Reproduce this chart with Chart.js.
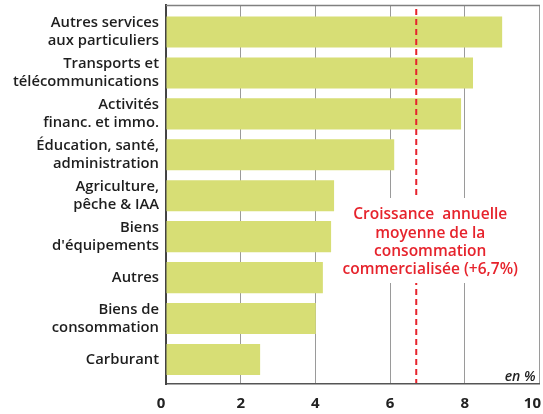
<!DOCTYPE html>
<html>
<head>
<meta charset="utf-8">
<script src="https://cdn.jsdelivr.net/npm/chart.js@4/dist/chart.umd.min.js"></script>
<style>
  html, body { margin: 0; padding: 0; background: #fff; }
  #wrap { width: 543px; height: 414px; }
</style>
</head>
<body>
<div id="wrap"><canvas id="chart" width="543" height="414"></canvas></div>
<script>
const categories = [
  ['Autres services', 'aux particuliers'],
  ['Transports et', 'télécommunications'],
  ['Activités', 'financ. et immo.'],
  ['Éducation, santé,', 'administration'],
  ['Agriculture,', 'pêche & IAA'],
  ['Biens', "d'équipements"],
  ['Autres'],
  ['Biens de', 'consommation'],
  ['Carburant']
];
const growth = [9.0, 8.22, 7.9, 6.11, 4.5, 4.42, 4.2, 4.01, 2.52];
const xTicks = [0, 2, 4, 6, 8, 10];
const averageGrowth = 6.7;
const averageLabel = ['Croissance  annuelle', 'moyenne de la', 'consommation', 'commercialisée (+6,7%)'];
const unitLabel = 'en %';

const FONT = '"Open Sans", "DejaVu Sans", sans-serif';
const RED = '#e6232c';

// x tick labels, average line, its caption and the top frame
const overlay = {
  id: 'overlay',
  afterDatasetsDraw(chart) {
    const { ctx, chartArea: a, scales, width } = chart;
    const x = scales.x.getPixelForValue(averageGrowth);
    ctx.save();
    ctx.strokeStyle = RED;
    ctx.lineWidth = 2;
    ctx.setLineDash([6, 4]);
    ctx.beginPath();
    ctx.moveTo(x, a.top + 4);
    ctx.lineTo(x, a.bottom - 1);
    ctx.stroke();
    ctx.setLineDash([]);

    // caption block
    const cx = x + 14;
    const top = 198, bottom = 283;
    ctx.fillStyle = '#fff';
    ctx.fillRect(cx - 92, top, 184, bottom - top);
    ctx.fillStyle = RED;
    ctx.font = '600 15.5px ' + FONT;
    ctx.textAlign = 'center';
    ctx.textBaseline = 'middle';
    averageLabel.forEach((line, i) => ctx.fillText(line, cx, 215 + i * 18.3));

    ctx.fillStyle = '#222';
    ctx.font = 'italic 600 14px ' + FONT;
    ctx.textAlign = 'right';
    ctx.textBaseline = 'alphabetic';
    ctx.fillText(unitLabel, a.right - 4, a.bottom - 3);

    // x tick labels, kept inside the canvas at the edges
    ctx.font = 'bold 15px ' + FONT;
    ctx.textAlign = 'center';
    ctx.textBaseline = 'middle';
    xTicks.forEach(v => {
      const label = String(v);
      const w = ctx.measureText(label).width;
      let px = scales.x.getPixelForValue(v);
      if (v === xTicks[0]) px -= 5;
      px = Math.min(px, width - w / 2 - 2);
      ctx.fillText(label, px, a.bottom + 20);
    });

    ctx.strokeStyle = '#808080';
    ctx.lineWidth = 1.5;
    ctx.beginPath();
    ctx.moveTo(a.left, a.top + 0.5);
    ctx.lineTo(a.right + 0.5, a.top + 0.5);
    ctx.stroke();
    ctx.restore();
  }
};

new Chart(document.getElementById('chart'), {
  type: 'bar',
  data: {
    labels: categories.map((_, i) => i),
    datasets: [{
      data: growth.map((v, i) => ({ x: v, y: i })),
      backgroundColor: '#d7de75',
      borderWidth: 0,
      categoryPercentage: 1,
      barPercentage: 0.76
    }]
  },
  options: {
    indexAxis: 'y',
    responsive: false,
    animation: false,
    layout: { padding: { top: 5, right: 3.5, left: 0, bottom: 0 } },
    plugins: { legend: { display: false }, tooltip: { enabled: false } },
    scales: {
      x: {
        type: 'linear',
        min: 0,
        max: 10,
        afterBuildTicks(scale) {
          scale.ticks = xTicks.map(v => ({ value: v }));
        },
        afterFit(scale) {
          scale.height = 30;
          scale.paddingLeft = 0;
          scale.paddingRight = 0;
        },
        grid: { color: '#9a9a9a', lineWidth: 1, drawTicks: false },
        border: { color: '#555', width: 1.5 },
        ticks: { display: false }
      },
      y: {
        type: 'linear',
        reverse: true,
        offset: false,
        bounds: 'data',
        min: -0.66,
        max: 8.6,
        afterBuildTicks(scale) {
          scale.ticks = categories.map((_, i) => ({ value: i }));
        },
        afterFit(scale) {
          scale.width = 166;
          scale.paddingTop = 0;
          scale.paddingBottom = 0;
        },
        grid: { display: false, drawTicks: false, offset: false },
        border: { color: '#444', width: 2 },
        ticks: {
          padding: 7,
          color: '#1e1e1e',
          font: { family: FONT, size: 14.8, weight: '600', lineHeight: 1.22 },
          callback: v => categories[v]
        }
      }
    }
  },
  plugins: [overlay]
});
</script>
</body>
</html>
